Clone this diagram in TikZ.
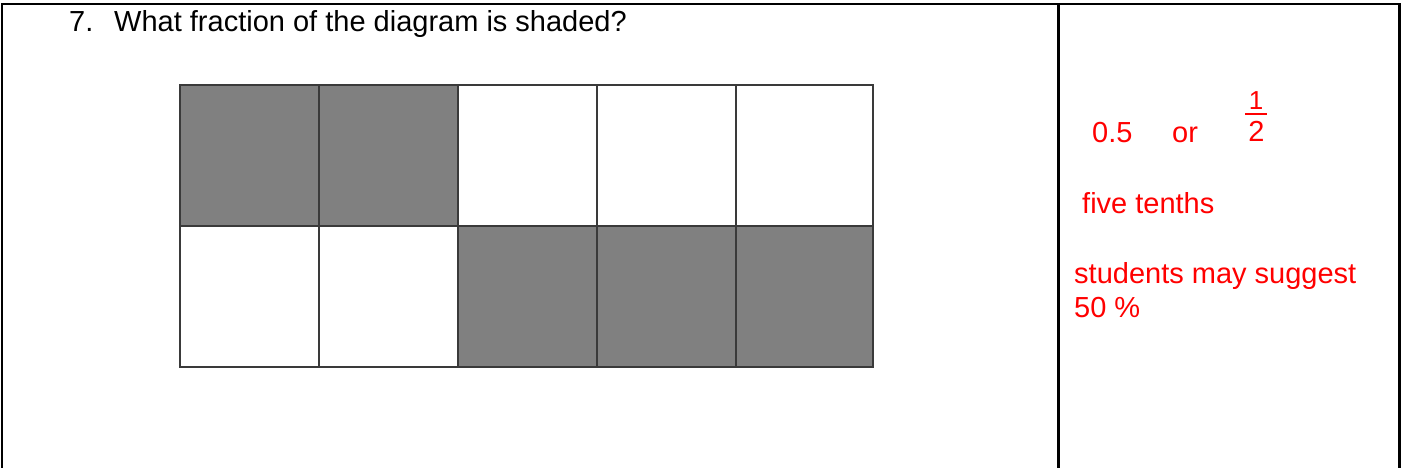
\documentclass[tikz,border=0pt]{standalone}
\usepackage{fontspec}
\setmainfont{Liberation Sans}
\begin{document}
\begin{tikzpicture}[x=1pt,y=-1pt,
  frameline/.style={line width=2.2pt,black},
  cellshade/.style={fill=shadegray,draw=none},
  gridline/.style={line width=1.5pt,draw=gridgray},
  txt/.style={anchor=base west,inner sep=0pt,font=\fontsize{29}{33}\selectfont},
  ans/.style={txt,text=red}]
\definecolor{shadegray}{HTML}{808080}
\definecolor{gridgray}{HTML}{3A3A3A}
\useasboundingbox (0,0) rectangle (1401,468);
% frame
\coordinate (tl) at (2,468);
\coordinate (tlc) at (2,4);
\coordinate (trc) at (1399.5,4);
\coordinate (tr) at (1399.5,468);
\coordinate (dtop) at (1058.5,4);
\coordinate (dbot) at (1058.5,468);
\draw[frameline] (tl) -- (tlc) -- (trc) -- (tr);
\draw[frameline] (dtop) -- (dbot);
% title
\node[txt] (num) at (69,32) {7.};
\node[txt] (q) at (114,32) {What fraction of the diagram is shaded?};
% grid shading
\fill[shadegray] (180,85) rectangle (458,226);
\fill[shadegray] (458,226) rectangle (873,367);
% grid lines
\draw[gridgray,line width=1.5pt] (180,85) rectangle (873,367);
\foreach \x in {319,458,597,736} \draw[gridline] (\x,85) -- (\x,367);
\draw[gridline] (180,226) -- (873,226);
% answers
\node[ans] (a05) at (1092,143) {0.5};
\node[ans] (aor) at (1172,143) {or};
\node[ans,anchor=base,font=\fontsize{26}{30}\selectfont] (fnum) at (1256,110) {1};
\node[ans,anchor=base] (fden) at (1256.5,142) {2};
\draw[red,line width=2pt] (1245,114.5) -- (1267,114.5);
\node[ans] (five) at (1082,213) {five tenths};
\node[ans] (stud) at (1074,283) {students may suggest};
\node[ans] (fifty) at (1074,317) {50 \%};
\end{tikzpicture}
\end{document}
